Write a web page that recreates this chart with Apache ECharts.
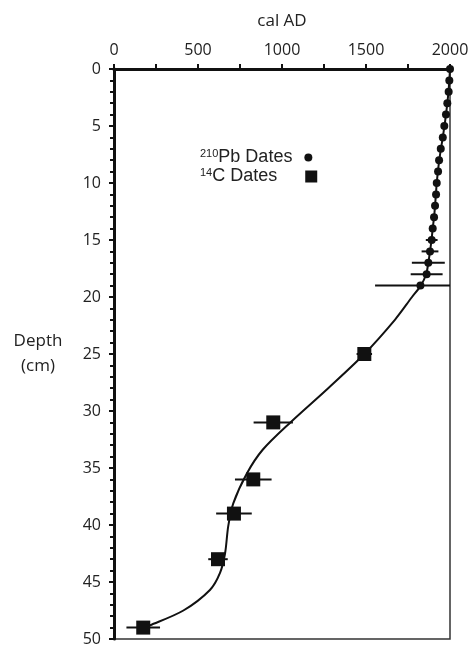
<!DOCTYPE html>
<html><head><meta charset="utf-8">
<script src="https://cdn.jsdelivr.net/npm/echarts@6/dist/echarts.min.js"></script>
<style>html,body{margin:0;padding:0;background:#fff}#c{width:468px;height:646px}</style>
</head><body><div id="c"></div>
<script>
// 210Pb dates
const pbDepth = [0,1,2,3,4,5,6,7,8,9,10,11,12,13,14,15,16,17,18,19];
const pbYear  = [2000,1996,1992,1984,1976,1966,1957,1945,1935,1929,1921,1917,1911,1905,1897,1891,1881,1871,1861,1824];
const pbErr   = [0,0,0,0,0,0,0,0,0,0,0,0,0,0,0,35,50,98,95,270];
// 14C dates
const cDepth = [25,31,36,39,43,49];
const cYear  = [1490,948,829,714,619,174];
const cErr   = [46,117,109,106,58,100];
// age-depth model curve
const modelDepth = [0,1,2,3,4,5,6,7,8,9,10,11,12,13,14,15,16,17,18,19,20,22,25,28,31,33.4,35.5,38.1,40.1,42.5,44.2,45.7,47.5,48.8,49];
const modelYear  = [2000,1996,1991,1984,1976,1967,1957,1946,1936,1928,1921,1916,1911,1905,1897,1890,1881,1871,1858,1826,1774,1672,1490,1275,1050,885,790,710,680,661,631,571,413,214,174];
// axis ticks
const xTicks = [0,500,1000,1500,2000];
const yTicks = [0,5,10,15,20,25,30,35,40,45,50];

const ink = '#111';
const labelFont = 'Open Sans';

function errRender(params, api){
  const a = api.coord([api.value(0), api.value(2)]);
  const b = api.coord([api.value(1), api.value(2)]);
  return {type:'line', shape:{x1:a[0],y1:a[1],x2:b[0],y2:b[1]}, style:{stroke:ink,lineWidth:2}};
}

const pbErrData = pbDepth.map((d,i)=>[pbYear[i]-pbErr[i], pbYear[i]+pbErr[i], d]).filter((r,i)=>pbErr[i]>0);
const cErrData = cDepth.map((d,i)=>[cYear[i]-cErr[i], cYear[i]+cErr[i], d]);

const rich = {
  sup:{fontSize:11, fontFamily:'Liberation Sans', color:'#222', padding:[0,0,8,0], align:'left'},
  t1:{fontSize:18, fontFamily:'Liberation Sans', color:'#222', width:81, align:'left'},
  t2:{fontSize:18, fontFamily:'Liberation Sans', color:'#222', width:88, align:'left'}
};
const legendFmt = n => n==='Pb' ? '{sup|210}{t1|Pb Dates}' : '{sup|14}{t2|C Dates}';

const chart = echarts.init(document.getElementById('c'), null, {renderer:'canvas'});
chart.setOption({
  animation:false,
  grid:{left:114, right:18, top:69, bottom:7, outerBoundsMode:'none', show:true, borderColor:'#333', borderWidth:1.5},
  legend:[
    {data:['Pb'], orient:'vertical', align:'right', left:195, top:143, itemWidth:8, itemHeight:8,
     formatter:legendFmt, textStyle:{rich}},
    {data:['C'], orient:'vertical', align:'right', left:195, top:162, itemWidth:12, itemHeight:12,
     formatter:legendFmt, textStyle:{rich}}
  ],
  xAxis:{type:'value', position:'top', min:xTicks[0], max:xTicks[xTicks.length-1], interval:500,
    name:'cal AD', nameLocation:'middle', nameGap:39,
    nameTextStyle:{fontFamily:labelFont, fontSize:17, color:'#222'},
    axisLine:{show:true, lineStyle:{color:ink, width:3}},
    axisTick:{show:true, length:5, lineStyle:{color:ink, width:2}},
    minorTick:{show:true, splitNumber:2, length:5, lineStyle:{color:ink, width:2}},
    axisLabel:{fontFamily:labelFont, fontSize:16, color:'#222', margin:11, formatter:v=>xTicks.includes(v)?String(v):''},
    splitLine:{show:false}},
  yAxis:{type:'value', inverse:true, min:yTicks[0], max:yTicks[yTicks.length-1], interval:5,
    name:'Depth\n(cm)', nameLocation:'middle', nameGap:76, nameRotate:0,
    nameTextStyle:{fontFamily:labelFont, fontSize:17, color:'#222', lineHeight:25, align:'center', verticalAlign:'middle'},
    axisLine:{show:true, lineStyle:{color:ink, width:3}},
    axisTick:{show:true, length:5, lineStyle:{color:ink, width:2}},
    minorTick:{show:true, splitNumber:5, length:4, lineStyle:{color:ink, width:2}},
    axisLabel:{fontFamily:labelFont, fontSize:16, color:'#222', margin:13, formatter:v=>yTicks.includes(v)?String(v):''},
    splitLine:{show:false}},
  series:[
    {type:'line', name:'model', data:modelDepth.map((d,i)=>[modelYear[i], d]), smooth:0.3,
     showSymbol:false, lineStyle:{color:ink, width:2}, z:2, silent:true},
    {type:'custom', name:'pbErr', data:pbErrData, renderItem:errRender, encode:{x:[0,1], y:2}, clip:true, z:3, silent:true},
    {type:'custom', name:'cErr', data:cErrData, renderItem:errRender, encode:{x:[0,1], y:2}, clip:true, z:3, silent:true},
    {type:'scatter', name:'Pb', data:pbDepth.map((d,i)=>[pbYear[i], d]), symbol:'circle', symbolSize:8,
     itemStyle:{color:ink, opacity:1}, z:4, clip:false},
    {type:'scatter', name:'C', data:cDepth.map((d,i)=>[cYear[i], d]), symbol:'rect', symbolSize:14,
     itemStyle:{color:ink, opacity:1}, z:4}
  ]
});
</script></body></html>
